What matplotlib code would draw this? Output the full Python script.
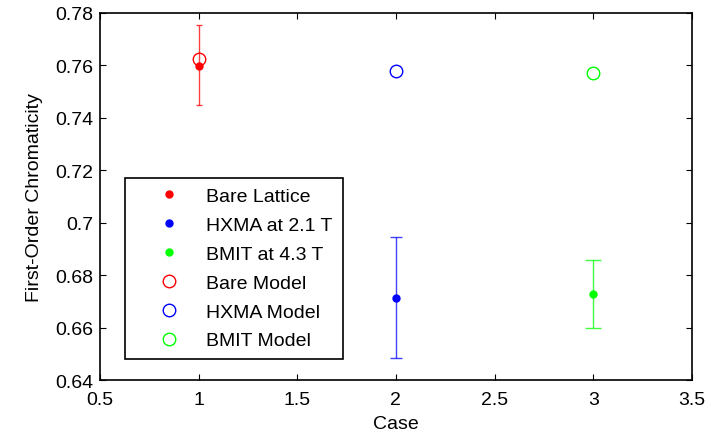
import matplotlib
matplotlib.use('Agg')
from matplotlib import pyplot as plt

plt.rcParams['font.family'] = ['Liberation Sans', 'DejaVu Sans']
plt.rcParams['font.size'] = 14

# measured chromaticity per case, with error bar half-widths
cases = [1, 2, 3]
measured = [0.7598, 0.6714, 0.6727]
err_low = [0.0148, 0.0228, 0.0128]
err_high = [0.0155, 0.0232, 0.0131]
measured_labels = ['Bare Lattice', 'HXMA at 2.1 T', 'BMIT at 4.3 T']

# model predictions for the same cases
model = [0.7624, 0.7580, 0.7571]
model_labels = ['Bare Model', 'HXMA Model', 'BMIT Model']

colors = ['#ff0000', '#0000ff', '#00ff00']
cap_sizes = [2, 4, 6]

figure = plt.figure(figsize=(7.06, 4.35), dpi=100)
ax = figure.add_axes([0.1416, 0.124, 0.8384, 0.844])

handles = []
for i in range(len(cases)):
    ax.errorbar(cases[i], measured[i], yerr=[[err_low[i]], [err_high[i]]],
                fmt='none', ecolor=colors[i], elinewidth=1, capsize=cap_sizes[i],
                capthick=1, alpha=0.75)
    h, = ax.plot(cases[i], measured[i], 'o', color=colors[i], markersize=5,
                 label=measured_labels[i])
    handles.append(h)
for i in range(len(cases)):
    h, = ax.plot(cases[i], model[i], 'o', markerfacecolor='none',
                 markeredgecolor=colors[i], markersize=9, markeredgewidth=1,
                 label=model_labels[i])
    handles.append(h)

ax.set_xlim(0.5, 3.5)
ax.set_ylim(0.64, 0.78)
ax.set_xticks([0.5, 1, 1.5, 2, 2.5, 3, 3.5])
ax.set_xticklabels(['0.5', '1', '1.5', '2', '2.5', '3', '3.5'])
ax.set_yticks([0.64, 0.66, 0.68, 0.7, 0.72, 0.74, 0.76, 0.78])
ax.set_yticklabels(['0.64', '0.66', '0.68', '0.7', '0.72', '0.74', '0.76', '0.78'])
ax.tick_params(direction='in', length=4, width=0.8, top=True, right=True,
               labelsize=14)
ax.tick_params(axis='x', pad=8)
ax.tick_params(axis='y', pad=4.5)
for spine in ax.spines.values():
    spine.set_linewidth(1.2)
ax.set_xlabel('Case', labelpad=5)
ax.set_ylabel('First-Order Chromaticity', labelpad=9)

legend = ax.legend(handles=handles, loc='lower left',
                   bbox_to_anchor=(0.042, 0.057), fancybox=False,
                   edgecolor='black', framealpha=1, borderpad=0.5,
                   labelspacing=0.58, handletextpad=0.2, handlelength=3.5,
                   borderaxespad=0, fontsize=14)
legend.get_frame().set_linewidth(1.2)

figure.savefig('out.png', dpi=100)
